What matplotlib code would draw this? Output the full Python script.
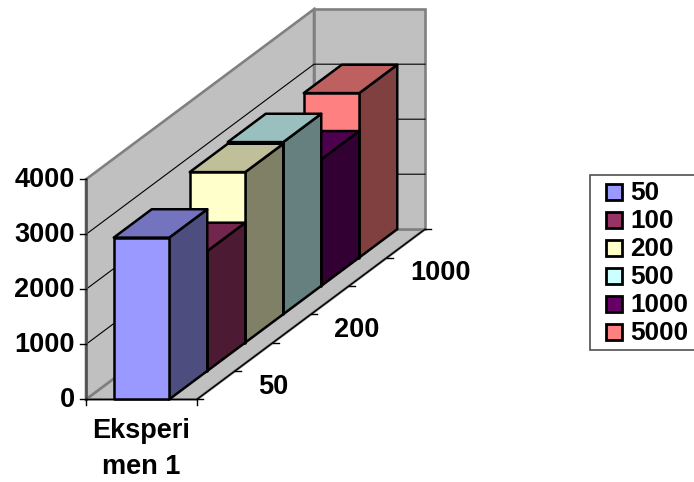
import matplotlib
matplotlib.use("Agg")
import matplotlib.pyplot as plt
from matplotlib.patches import Polygon, Rectangle

plt.rcParams['font.family'] = ['Liberation Sans', 'DejaVu Sans']
plt.rcParams['font.weight'] = 'bold'

series_names = ['50', '100', '200', '500', '1000', '5000']
series_values = [2940, 2180, 3100, 3130, 2300, 2990]
series_colors = ['#9999FF', '#993366', '#FFFFCC', '#CCFFFF', '#660066', '#FF8080']
value_ticks = [0, 1000, 2000, 3000, 4000]
depth_labels = {0: '50', 2: '200', 4: '1000'}
category_label = 'Eksperi\nmen 1'

# oblique projection of the 3D box, in figure pixels
X0, Y0 = 86.0, 399.3
WIDTH = 111.0
DX, DY = 38.0, -28.35
PX_PER_UNIT = 55.0 / 1000
BAR_LEFT, BAR_RIGHT = 0.25, 0.75
YMAX = value_ticks[-1]
NDEPTH = len(series_values)
FONT = 19.5


def proj(x, z, v):
    # x: 0-1 across the category, z: depth in series steps, v: value
    return (X0 + x * WIDTH + z * DX, Y0 - v * PX_PER_UNIT + z * DY)


def shade(color, f):
    rgb = matplotlib.colors.to_rgb(color)
    return tuple(c * f for c in rgb)


fig = plt.figure(figsize=(6.94, 4.82), dpi=100)
ax = fig.add_axes([0, 0, 1, 1])
ax.set_xlim(0, 694)
ax.set_ylim(482, 0)
ax.axis('off')

wall = '#C0C0C0'
edge = '#808080'

# walls and floor
left_wall = [proj(0, 0, 0), proj(0, 0, YMAX), proj(0, NDEPTH, YMAX), proj(0, NDEPTH, 0)]
back_wall = [proj(0, NDEPTH, 0), proj(0, NDEPTH, YMAX), proj(1, NDEPTH, YMAX), proj(1, NDEPTH, 0)]
floor = [proj(0, 0, 0), proj(1, 0, 0), proj(1, NDEPTH, 0), proj(0, NDEPTH, 0)]
ax.add_patch(Polygon(floor, closed=True, fc=wall, ec=edge, lw=1.9, zorder=1))
for pts in (left_wall, back_wall):
    ax.add_patch(Polygon(pts, closed=True, fc=wall, ec=edge, lw=1.9, zorder=1))

# gridlines on both walls
for v in value_ticks[1:-1]:
    pts = [proj(0, 0, v), proj(0, NDEPTH, v), proj(1, NDEPTH, v)]
    ax.plot(*zip(*pts), color='black', lw=0.8, zorder=2)

# axis lines and ticks
ax.plot(*zip(proj(0, 0, 0), proj(0, 0, YMAX)), color='#505050', lw=1.9, zorder=2)
ax.plot(*zip(proj(0, 0, 0), proj(1, 0, 0)), color='black', lw=1.0, zorder=2)
ax.plot(*zip(proj(1, 0, 0), proj(1, NDEPTH, 0)), color='black', lw=1.0, zorder=2)
for v in value_ticks:
    x, y = proj(0, 0, v)
    ax.plot([x - 6, x], [y, y], color='black', lw=1.0, zorder=2)
    ax.text(x - 11, y + 1, str(v), ha='right', va='center', fontsize=FONT)
for z in range(NDEPTH + 1):
    x, y = proj(1, z, 0)
    ax.plot([x, x + 6], [y, y], color='black', lw=1.0, zorder=2)
for s in (0, 1):
    x, y = proj(s, 0, 0)
    ax.plot([x, x], [y, y + 6], color='black', lw=1.0, zorder=2)

# bars, back to front so nearer ones cover the rest
for z in range(NDEPTH - 1, -1, -1):
    v = series_values[z]
    c = series_colors[z]
    front = [proj(BAR_LEFT, z, 0), proj(BAR_LEFT, z, v), proj(BAR_RIGHT, z, v), proj(BAR_RIGHT, z, 0)]
    top = [proj(BAR_LEFT, z, v), proj(BAR_LEFT, z + 1, v), proj(BAR_RIGHT, z + 1, v), proj(BAR_RIGHT, z, v)]
    side = [proj(BAR_RIGHT, z, 0), proj(BAR_RIGHT, z, v), proj(BAR_RIGHT, z + 1, v), proj(BAR_RIGHT, z + 1, 0)]
    order = 3 + (NDEPTH - z)
    for pts, f in ((side, 0.5), (top, 0.75), (front, 1.0)):
        ax.add_patch(Polygon(pts, closed=True, fc=shade(c, f), ec='black', lw=1.8, joinstyle='round', zorder=order))

# depth axis labels
for z, name in depth_labels.items():
    x, y = proj(1, z + 0.5, 0)
    ax.text(x + 42, y + 1.5, name, ha='left', va='center', fontsize=FONT)

# category label
cx = proj(0.5, 0, 0)[0]
ax.text(cx, 449, category_label, ha='center', va='center', fontsize=FONT, linespacing=1.5)

# legend box, open at the right side of the figure
ax.add_patch(Rectangle((590.5, 174.5), 120, 175, fc='white', ec='#505050', lw=1.2, zorder=2))
for i, (name, c) in enumerate(zip(series_names, series_colors)):
    y = 192 + 28 * i
    ax.add_patch(Rectangle((606.5, y - 8.5), 16, 16, fc=c, ec='black', lw=2.0, zorder=3))
    ax.text(630, y + 0.5, name, ha='left', va='center', fontsize=18.8, zorder=3)

fig.savefig('out.png', dpi=100, facecolor='white')
